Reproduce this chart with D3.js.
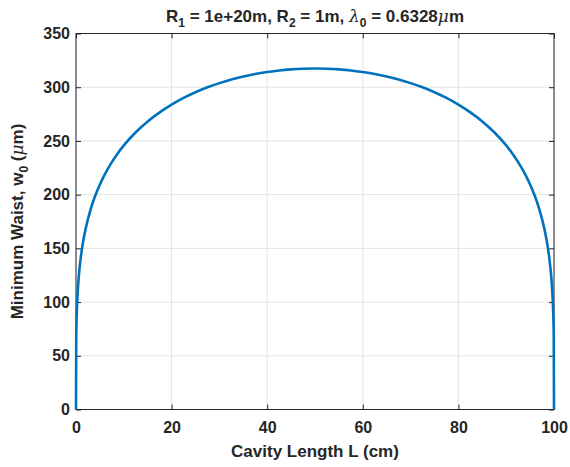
<!DOCTYPE html>
<html>
<head>
<meta charset="utf-8">
<script src="https://cdn.jsdelivr.net/npm/d3@7/dist/d3.min.js"></script>
<style>
  html, body { margin: 0; padding: 0; background: #fff; }
  svg { display: block; }
  text { font-family: "Liberation Sans", Arial, Helvetica, sans-serif; font-weight: bold; fill: #262626; }
</style>
</head>
<body>
<svg id="chart" width="570" height="467"></svg>
<script>
// Cavity length (cm) and the corresponding minimum waist w0 (µm)
const lengthCm = [
  0, 0.05, 0.1, 0.2, 0.3, 0.5, 0.75, 1, 1.5, 2, 3, 4, 5, 6, 7.5, 8.5, 10, 12.5, 15, 17.5,
  20, 22.5, 25, 27.5, 30, 32.5, 35, 37.5, 40, 42.5, 45, 47.5, 50,
  52.5, 55, 57.5, 60, 62.5, 65, 67.5, 70, 72.5, 75, 77.5, 80,
  82.5, 85, 87.5, 90, 91.5, 92.5, 94, 95, 96, 97, 98, 98.5, 99, 99.25, 99.5, 99.7, 99.8, 99.9, 99.95, 100
];
const waistUm = [
  0, 67.1, 79.8, 94.9, 105.0, 119.2, 131.8, 141.6, 156.5, 167.9, 185.4, 198.7, 209.5, 218.7, 230.3, 237.0, 245.8, 258.1, 268.2, 276.6,
  283.8, 290.0, 295.3, 299.9, 303.8, 307.2, 310.0, 312.3, 314.1, 315.6, 316.6, 317.2, 317.4,
  317.2, 316.6, 315.6, 314.1, 312.3, 310.0, 307.2, 303.8, 299.9, 295.3, 290.0, 283.8,
  276.6, 268.2, 258.1, 245.8, 237.0, 230.3, 218.7, 209.5, 198.7, 185.4, 167.9, 156.5, 141.6, 131.8, 119.2, 105.0, 94.9, 79.8, 67.1, 0
];
const xTicks = [0, 20, 40, 60, 80, 100];
const yTicks = [0, 50, 100, 150, 200, 250, 300, 350];

const svg = d3.select("#chart");
const plot = { left: 76, right: 554, top: 33.5, bottom: 409.5 };

const x = d3.scaleLinear().domain([0, 100]).range([plot.left, plot.right]);
const y = d3.scaleLinear().domain([0, 350]).range([plot.bottom, plot.top]);

const axisColor = "#262626";
const gridColor = "#e3e3e3";

// grid
const grid = svg.append("g");
grid.selectAll("line.gx").data(xTicks).join("line")
  .attr("x1", d => x(d)).attr("x2", d => x(d))
  .attr("y1", plot.top).attr("y2", plot.bottom)
  .attr("stroke", gridColor).attr("stroke-width", 1);
grid.selectAll("line.gy").data(yTicks).join("line")
  .attr("x1", plot.left).attr("x2", plot.right)
  .attr("y1", d => y(d)).attr("y2", d => y(d))
  .attr("stroke", gridColor).attr("stroke-width", 1);

// axes with inward ticks on all four sides
function styleAxis(g) {
  g.select(".domain").remove();
  g.selectAll(".tick line").attr("stroke", axisColor);
  g.selectAll(".tick text").attr("fill", axisColor)
    .style("font-size", "16px").style("font-weight", "bold")
    .style("font-family", "'Liberation Sans', Arial, sans-serif");
}
const tickLen = 5;
svg.append("g").attr("transform", `translate(0,${plot.bottom})`)
  .call(d3.axisBottom(x).tickValues(xTicks).tickSize(-tickLen).tickPadding(12).tickFormat(d3.format("d")))
  .call(styleAxis);
svg.append("g").attr("transform", `translate(0,${plot.top})`)
  .call(d3.axisTop(x).tickValues(xTicks).tickSize(-tickLen).tickFormat(""))
  .call(styleAxis);
svg.append("g").attr("transform", `translate(${plot.left},0)`)
  .call(d3.axisLeft(y).tickValues(yTicks).tickSize(-tickLen).tickPadding(6).tickFormat(d3.format("d")))
  .call(styleAxis);
svg.append("g").attr("transform", `translate(${plot.right},0)`)
  .call(d3.axisRight(y).tickValues(yTicks).tickSize(-tickLen).tickFormat(""))
  .call(styleAxis);

// box
svg.append("rect")
  .attr("x", plot.left).attr("y", plot.top)
  .attr("width", plot.right - plot.left).attr("height", plot.bottom - plot.top)
  .attr("fill", "none").attr("stroke", axisColor).attr("stroke-width", 1);

// curve
const pts = lengthCm.map((L, i) => [L, waistUm[i]]);
svg.append("path")
  .datum(pts)
  .attr("fill", "none")
  .attr("stroke", "#0072BD")
  .attr("stroke-width", 2.6)
  .attr("stroke-linejoin", "round")
  .attr("d", d3.line().x(d => x(d[0])).y(d => y(d[1])).curve(d3.curveMonotoneX));

// title
const greek = t => t.style("font-weight", "normal").style("font-family", "'DejaVu Serif', serif").style("font-style", "italic");
const title = svg.append("text")
  .attr("x", (plot.left + plot.right) / 2).attr("y", 22)
  .attr("text-anchor", "middle").style("font-size", "17px");
title.append("tspan").text("R");
title.append("tspan").attr("dy", 5).style("font-size", "12px").text("1");
title.append("tspan").attr("dy", -5).text(" = 1e+20m, R");
title.append("tspan").attr("dy", 5).style("font-size", "12px").text("2");
title.append("tspan").attr("dy", -5).text(" = 1m, ");
title.append("tspan").call(greek).text("λ");
title.append("tspan").attr("dy", 5).style("font-size", "12px").text("0");
title.append("tspan").attr("dy", -5).text(" = 0.6328");
title.append("tspan").call(greek).text("μ");
title.append("tspan").text("m");

// x label
svg.append("text")
  .attr("x", (plot.left + plot.right) / 2).attr("y", 457)
  .attr("text-anchor", "middle").style("font-size", "17px")
  .text("Cavity Length L (cm)");

// y label
const yl = svg.append("text")
  .attr("transform", `translate(23,${(plot.top + plot.bottom) / 2}) rotate(-90)`)
  .attr("text-anchor", "middle").style("font-size", "17px");
yl.append("tspan").text("Minimum Waist, w");
yl.append("tspan").attr("dy", 5).style("font-size", "12px").text("0");
yl.append("tspan").attr("dy", -5).text(" (");
yl.append("tspan").call(greek).text("μ");
yl.append("tspan").text("m)");
</script>
</body>
</html>
